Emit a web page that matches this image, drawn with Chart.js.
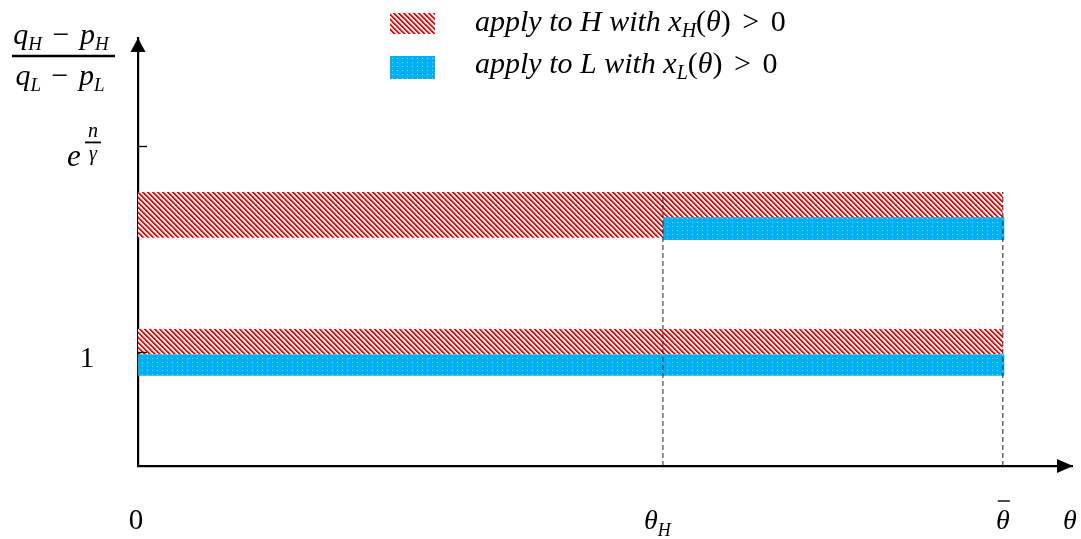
<!DOCTYPE html>
<html><head><meta charset="utf-8">
<script src="https://cdn.jsdelivr.net/npm/chart.js@4.4.0/dist/chart.umd.min.js"></script>
<style>html,body{margin:0;padding:0;background:#fff;}#c{display:block;}</style>
</head><body>
<canvas id="c" width="1081" height="539"></canvas>
<script>
// ---------------- data ----------------
const xTickValues = [0, 0.607, 1.0];            // 0, θ_H, θ̄
const xTickLabels = ['0', 'θ_H', 'θ̄'];
const xAxisMax = 1.08;                          // θ (arrow end)
const xAxisLabel = 'θ';
const yTickValues = [1.0, 2.80];                // 1, e^{n/γ}
const yTickLabels = ['1', 'e^{n/γ}'];
const yAxisMax = 3.75;
const yAxisNumerator = 'q_H − p_H';
const yAxisDenominator = 'q_L − p_L';
const redHighBandX = [0, 1.0];
const redHighBandY = [2.0, 2.40];
const blueHighBandX = [0.607, 1.002];
const blueHighBandY = [1.98, 2.18];
const redLowBandX = [0, 1.0];
const redLowBandY = [0.98, 1.20];
const blueLowBandX = [0, 1.002];
const blueLowBandY = [0.79, 0.98];
const dashedX = [0.607, 1.0];
const dashedTop = 2.40;
const legendLabels = ['apply to H with x_H(θ) > 0', 'apply to L with x_L(θ) > 0'];

// ---------------- patterns ----------------
function makeRedPattern() {
  const n = 5;
  const c = document.createElement('canvas'); c.width = n; c.height = n;
  const g = c.getContext('2d');
  g.fillStyle = '#ffffff'; g.fillRect(0, 0, n, n);
  for (let y = 0; y < n; y++) for (let x = 0; x < n; x++) {
    const m = ((x - y) % n + n) % n;
    if (m === 0 || m === 1) { g.fillStyle = '#ff0000'; g.fillRect(x, y, 1, 1); }
    else if (m === 2) { g.fillStyle = '#ff8c8c'; g.fillRect(x, y, 1, 1); }
  }
  return g.createPattern(c, 'repeat');
}
function makeBluePattern() {
  const c = document.createElement('canvas'); c.width = 5; c.height = 4;
  const g = c.getContext('2d');
  g.fillStyle = '#00b0f0'; g.fillRect(0, 0, 5, 4);
  g.fillStyle = '#86d6f5'; g.fillRect(2, 2, 1, 1);
  return g.createPattern(c, 'repeat');
}
const ctx0 = document.getElementById('c').getContext('2d');
const RED = makeRedPattern();
const BLUE = makeBluePattern();

function band(xr, yr, fillStyle) {
  return {
    data: [{x: xr[0], y: yr[1]}, {x: xr[1], y: yr[1]}],
    fill: {value: yr[0]},
    backgroundColor: fillStyle,
    borderColor: 'rgba(0,0,0,0)',
    borderWidth: 0,
    pointRadius: 0, pointHoverRadius: 0,
    tension: 0
  };
}
function dashed(x) {
  return {
    data: [{x: x, y: 0}, {x: x, y: dashedTop}],
    fill: false,
    borderColor: '#222222',
    borderWidth: 1,
    borderDash: [5, 3],
    pointRadius: 0, pointHoverRadius: 0
  };
}

// ---------------- text helpers ----------------
const FAM = '"Liberation Serif", "Times New Roman", serif';
function runsFor(s, size, subSize, subDy) {
  const runs = [];
  for (let i = 0; i < s.length; i++) {
    const ch = s[i];
    if (ch === '_') {
      const n = s[++i];
      runs.push({t: n, size: subSize, dy: subDy, it: true});
    } else {
      const upright = /[0-9()>−\-\s]/.test(ch);
      runs.push({t: ch, size: size, dy: 0, it: !upright});
    }
  }
  return runs;
}
function drawRuns(ctx, runs, x, y, align) {
  let w = 0;
  runs.forEach(r => { ctx.font = (r.it ? 'italic ' : '') + r.size + 'px ' + FAM; r.w = ctx.measureText(r.t).width + (r.gap || 0); w += r.w; });
  let cx = align === 'center' ? x - w / 2 : (align === 'right' ? x - w : x);
  runs.forEach(r => { ctx.font = (r.it ? 'italic ' : '') + r.size + 'px ' + FAM; ctx.fillText(r.t, cx, y + r.dy); cx += r.w; });
  return w;
}

const decor = {
  id: 'decor',
  afterDraw(chart) {
    const ctx = chart.ctx;
    const xs = chart.scales.x, ys = chart.scales.y;
    const x0 = xs.getPixelForValue(0), y0 = ys.getPixelForValue(0);
    ctx.save();
    ctx.fillStyle = '#000'; ctx.strokeStyle = '#000';
    ctx.textBaseline = 'alphabetic'; ctx.textAlign = 'left';
    // arrow heads
    const xt = xs.getPixelForValue(xAxisMax);
    ctx.beginPath(); ctx.moveTo(xt + 1, y0); ctx.lineTo(xt - 15, y0 - 7); ctx.lineTo(xt - 15, y0 + 7); ctx.closePath(); ctx.fill();
    const yt = ys.getPixelForValue(yAxisMax);
    ctx.beginPath(); ctx.moveTo(x0, yt); ctx.lineTo(x0 - 7.5, yt + 14); ctx.lineTo(x0 + 7.5, yt + 14); ctx.closePath(); ctx.fill();
    // y tick marks
    ctx.lineWidth = 1.3;
    yTickValues.forEach(v => {
      const py = Math.round(ys.getPixelForValue(v)) + 0.5;
      ctx.beginPath(); ctx.moveTo(x0, py); ctx.lineTo(x0 + 9, py); ctx.stroke();
    });
    // y tick labels
    let py = ys.getPixelForValue(yTickValues[0]);
    drawRuns(ctx, [{t: yTickLabels[0], size: 29, dy: 0, it: false}], x0 - 51, py + 15, 'center');
    py = ys.getPixelForValue(yTickValues[1]);
    drawRuns(ctx, [{t: 'e', size: 31, dy: 0, it: true}], x0 - 71, py + 20, 'left');
    ctx.lineWidth = 1.8;
    ctx.beginPath(); ctx.moveTo(x0 - 53, py - 4); ctx.lineTo(x0 - 37, py - 4); ctx.stroke();
    drawRuns(ctx, [{t: 'n', size: 20, dy: 0, it: true}], x0 - 45, py - 9, 'center');
    drawRuns(ctx, [{t: 'γ', size: 20, dy: 0, it: true}], x0 - 45, py + 14, 'center');
    // x tick labels
    const base = y0 + 63;
    drawRuns(ctx, [{t: xTickLabels[0], size: 29, dy: 0, it: false}], x0 - 2, base, 'center');
    let px = xs.getPixelForValue(xTickValues[1]);
    drawRuns(ctx, runsFor(xTickLabels[1], 28, 18, 7), px - 19, base, 'left');
    px = xs.getPixelForValue(xTickValues[2]);
    drawRuns(ctx, [{t: 'θ', size: 28, dy: 0, it: true}], px, base, 'center');
    ctx.lineWidth = 1.4;
    ctx.beginPath(); ctx.moveTo(px - 5, base - 28); ctx.lineTo(px + 7, base - 28); ctx.stroke();
    drawRuns(ctx, [{t: xAxisLabel, size: 28, dy: 0, it: true}], xt - 9, base, 'left');
    // y axis title (fraction)
    const numR = runsFor(yAxisNumerator, 30, 19, 6);
    const denR = runsFor(yAxisDenominator, 30, 19, 6);
    [numR, denR].forEach(rr => rr.forEach(r => { if (r.t === ' ') r.gap = 3; }));
    drawRuns(ctx, numR, 61, 44, 'center');
    ctx.lineWidth = 2.4;
    ctx.beginPath(); ctx.moveTo(12, 56); ctx.lineTo(115, 56); ctx.stroke();
    drawRuns(ctx, denR, 60, 85, 'center');
    // legend
    ctx.fillStyle = RED; ctx.fillRect(390, 13, 45, 21);
    ctx.fillStyle = BLUE; ctx.fillRect(390, 56, 45, 23);
    ctx.fillStyle = '#000';
    const lr = s => {
      const k = s.indexOf('x_');
      const head = [{t: s.slice(0, k), size: 30, dy: 0, it: true}];
      const tail = runsFor(s.slice(k), 30, 20, 6);
      tail.forEach(r => { if (r.t === ' ') r.gap = 4; });
      return head.concat(tail);
    };
    drawRuns(ctx, lr(legendLabels[0]), 475, 31, 'left');
    drawRuns(ctx, lr(legendLabels[1]), 475, 73, 'left');
    ctx.restore();
  }
};

new Chart(ctx0, {
  type: 'line',
  data: {
    datasets: [
      dashed(dashedX[0]), dashed(dashedX[1]),
      band(blueHighBandX, blueHighBandY, BLUE),
      band(blueLowBandX, blueLowBandY, BLUE),
      band(redHighBandX, redHighBandY, RED),
      band(redLowBandX, redLowBandY, RED)
    ]
  },
  options: {
    responsive: false,
    animation: false,
    events: [],
    layout: {padding: {left: 138, right: 9, top: 38, bottom: 73}},
    plugins: {legend: {display: false}, tooltip: {enabled: false}},
    scales: {
      x: {type: 'linear', min: 0, max: xAxisMax,
          ticks: {display: false}, grid: {display: false, drawTicks: false},
          border: {display: true, color: '#000', width: 2.2},
          afterFit(s) { s.height = 0; }},
      y: {type: 'linear', min: 0, max: yAxisMax,
          ticks: {display: false}, grid: {display: false, drawTicks: false},
          border: {display: true, color: '#000', width: 2.2},
          afterFit(s) { s.width = 0; }}
    }
  },
  plugins: [decor]
});
</script>
</body></html>
